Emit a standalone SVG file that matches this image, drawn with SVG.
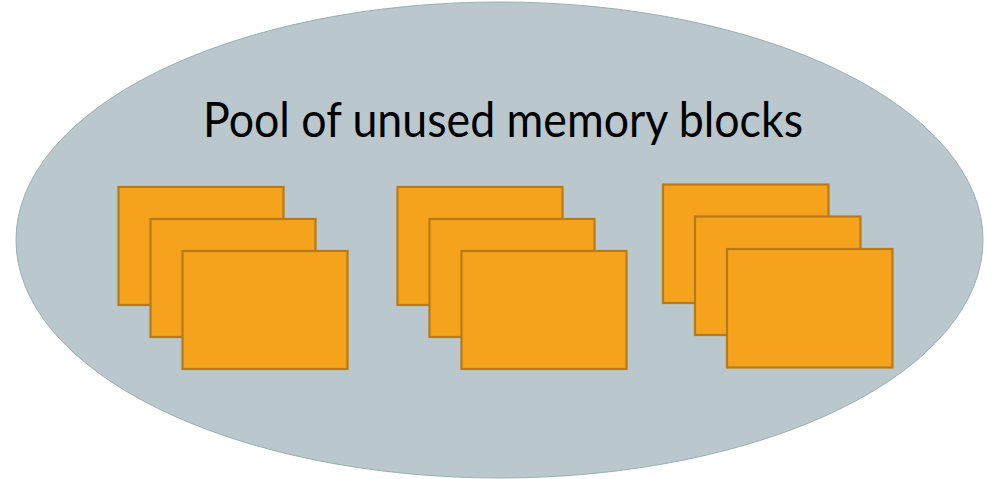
<svg xmlns="http://www.w3.org/2000/svg" width="998" height="479" viewBox="0 0 998 479">
  <style>
    .pool { fill: #BAC8CD; stroke: #9AAFB5; stroke-width: 1; }
    .blk { fill: #F5A31C; stroke: #B97A16; stroke-width: 2.2; }
    .title { font-family: "Lato", "Open Sans", sans-serif; font-size: 49px; fill: #000; }
  </style>
  <rect width="998" height="479" fill="#FFFFFF"/>
  <g id="pool">
    <ellipse class="pool" cx="499.5" cy="240" rx="483.5" ry="238"/>
    <text class="title" x="503" y="137" text-anchor="middle" textLength="600" lengthAdjust="spacingAndGlyphs">Pool of unused memory blocks</text>
  </g>
  <g id="stack-1">
    <rect class="blk" x="118.5" y="187" width="165" height="118"/>
    <rect class="blk" x="150.5" y="219" width="165" height="118"/>
    <rect class="blk" x="182.5" y="251" width="165" height="118"/>
  </g>
  <g id="stack-2">
    <rect class="blk" x="397.5" y="187" width="165" height="118"/>
    <rect class="blk" x="429.5" y="219" width="165" height="118"/>
    <rect class="blk" x="461.5" y="251" width="165" height="118"/>
  </g>
  <g id="stack-3">
    <rect class="blk" x="663" y="184.5" width="165.5" height="118.5"/>
    <rect class="blk" x="695" y="216.5" width="165.5" height="118.5"/>
    <rect class="blk" x="727" y="249" width="165.5" height="118.5"/>
  </g>
</svg>
